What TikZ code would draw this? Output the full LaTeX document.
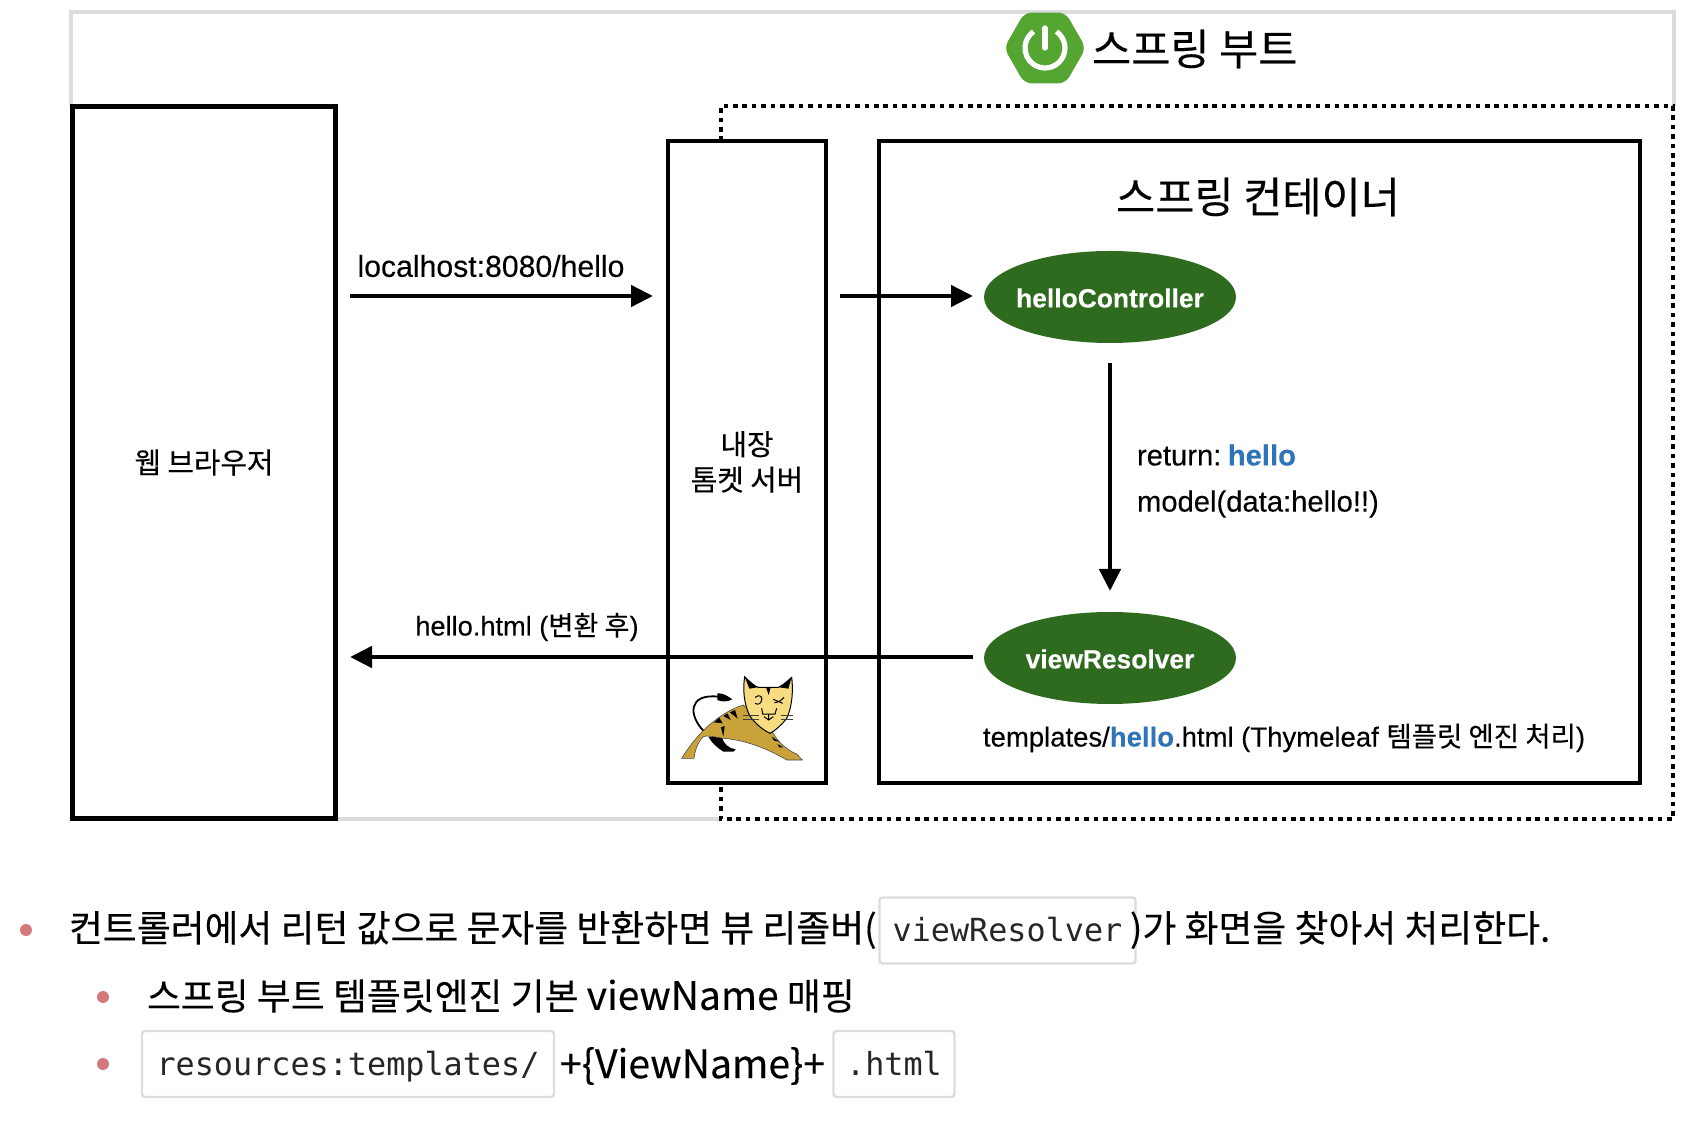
\documentclass[tikz,border=0pt]{standalone}
\usepackage{fontspec}
\setmainfont[FakeBold=0.25]{Liberation Sans}
\setmonofont{DejaVu Sans Mono}
\newfontfamily\krf[FakeBold=0.25]{Noto Sans CJK KR}
\usetikzlibrary{arrows.meta,shapes.geometric}
\definecolor{springgreen}{HTML}{55A532}
\definecolor{ovalgreen}{HTML}{2F6B1F}
\definecolor{linkblue}{HTML}{2F74B8}
\definecolor{framegray}{HTML}{DCDCDC}
\definecolor{bulletred}{HTML}{D4787C}
\definecolor{catbody}{HTML}{C9A23A}
\definecolor{cathead}{HTML}{F8DC82}
\newcommand{\sz}[1]{\fontsize{#1pt}{18pt}\selectfont}
\newcommand{\hl}{\textbf{\textcolor{linkblue}{hello}}}
\tikzset{
  bigbox/.style={draw=black,line width=2.3pt,inner sep=0pt,outer sep=0pt,align=center,font=\krf\sz{14.4}},
  oval/.style={ellipse,fill=ovalgreen,inner sep=0pt,outer sep=0pt,minimum width=126pt,minimum height=46pt},
  ovaltext/.style={inner sep=0pt,outer sep=0pt,text=white,font=\bfseries\sz{13.2}},
  flow/.style={line width=2.3pt,-{Triangle[length=11pt,width=10.5pt]}},
  lbl/.style={inner sep=0pt,outer sep=0pt,font=\sz{14.6}},
  title/.style={inner sep=0pt,outer sep=0pt,font=\krf\fontsize{21.3pt}{25pt}\selectfont},
  body/.style={inner sep=0pt,outer sep=0pt,anchor=west,font=\krf\fontsize{18.42pt}{22pt}\selectfont},
  code/.style={draw=framegray,line width=1.2pt,rounded corners=1.5pt,inner sep=0pt,outer sep=0pt,font=\ttfamily\fontsize{15.9pt}{19pt}\selectfont,text=black!85,text height=13.5pt,text depth=2pt},
  dot/.style={circle,fill=bulletred,inner sep=0pt,outer sep=0pt,minimum size=6pt}
}
\begin{document}
\begin{tikzpicture}[x=0.5pt,y=-0.5pt]
\useasboundingbox (0,0) rectangle (1688,1122);
% gray frame
\draw[framegray,line width=1.6pt] (71,106) -- (71,12) -- (1674,12) -- (1674,106);
\draw[framegray,line width=1.6pt] (336,819) -- (721,819);
% dotted spring boot boundary
\draw[line width=2.3pt,dash pattern=on 2.3pt off 2.4pt] (721,141) -- (721,106) -- (1673,106) -- (1673,819) -- (721,819) -- (721,783);
% boxes
\node[bigbox,minimum width=131.5pt,minimum height=356pt] (browser) at (204,462.5) {웹 브라우저};
\node[bigbox,minimum width=79pt,minimum height=321pt] (tomcat) at (747,462) {내장\\[-0.3pt]톰켓 서버};
\node[bigbox,minimum width=380.5pt,minimum height=321pt] (container) at (1259.5,462) {};
\node[title] (ctitle) at (1258,197) {스프링 컨테이너};
% ovals
\node[oval] (hc) at (1110,297) {};
\node[ovaltext] (hct) at (1110,298) {helloController};
\node[oval] (vr) at (1110,658) {};
\node[ovaltext] (vrt) at (1110,659) {viewResolver};
% connector ends
\coordinate (reqa) at (350,296);
\coordinate (reqb) at (653,296);
\coordinate (reqc) at (840,296);
\coordinate (reqd) at (973,296);
\coordinate (reta) at (973,657);
\coordinate (retb) at (350,657);
\draw[flow] (reqa) -- (reqb);
\draw[flow] (reqc) -- (reqd);
\draw[flow,shorten <=10pt,shorten >=10.5pt] (hc.south) -- (vr.north);
\draw[flow] (reta) -- (retb);
% labels
\node[lbl,font=\sz{15.1}] (l1) at (491,266) {localhost:8080/hello};
\node[lbl,font=\sz{13.6}] (l2) at (527,627) {hello.html ({\krf 변환 후})};
\node[lbl,anchor=west] (l3) at (1137,455) {return:\hspace{0.22em}\hl};
\node[lbl,anchor=west] (l4) at (1137,504) {model(data:hello!!)};
\node[lbl,anchor=west,font=\sz{13.75}] (l5) at (983,738) {templates/\hl.html (Thymeleaf {\krf 템플릿 엔진 처리})};
% spring logo
\node[regular polygon,regular polygon sides=6,fill=springgreen,draw=springgreen,line width=3pt,rounded corners=3pt,inner sep=0pt,minimum size=37.5pt] (logo) at (1045,48) {};
\draw[white,line width=2.6pt] (1045,48) ++(-55:20) arc[start angle=-55,end angle=235,radius=20] ;
\draw[white,line width=2.6pt,line cap=round] (1045,28) -- (1045,48);
\node[title,anchor=west] (stitle) at (1092,49) {스프링 부트};
% tomcat cat
\begin{scope}[shift={(640,640)},x=0.16667pt,y=-0.16667pt]
  \draw[black,line width=0.9pt] (190,272) .. controls (145,225) and (145,160) .. (235,170);
  \fill (232,160) .. controls (250,158) and (265,170) .. (277,178) .. controls (262,186) and (245,186) .. (232,180) -- cycle;
  \fill (205,290) -- (245,290) .. controls (250,310) and (265,325) .. (287,328) -- (280,335) -- (250,335) .. controls (235,325) and (215,310) .. (205,290) -- cycle;
  \filldraw[fill=catbody,draw=black!70,line width=0.3pt] (125,355) .. controls (150,315) and (175,285) .. (200,262)
     .. controls (235,230) and (275,205) .. (310,195) -- (400,280) .. controls (415,310) and (450,335) .. (470,342)
     -- (487,360) -- (440,360) .. controls (390,330) and (320,300) .. (250,295) .. controls (220,290) and (200,285) .. (190,290)
     .. controls (170,310) and (165,335) .. (162,355) -- cycle;
  \filldraw[fill=cathead,draw=black,line width=0.5pt] (314,110) .. controls (328,125) and (340,138) .. (355,142) -- (415,142)
     .. controls (430,135) and (445,122) .. (455,112) .. controls (462,170) and (450,215) .. (440,235)
     .. controls (425,255) and (405,272) .. (390,280) .. controls (365,268) and (340,245) .. (328,225) .. controls (312,190) and (308,150) .. (314,110) -- cycle;
  \fill (314,110) -- (352,142) -- (328,146) -- cycle;
  \fill (455,112) -- (418,142) -- (445,146) -- cycle;
  \fill (378,142) -- (392,142) -- (386,165) -- cycle;
  % back and flank stripes
  \fill (222,247) -- (238,233) -- (248,250) -- cycle;
  \fill (250,228) -- (262,220) -- (272,240) -- cycle;
  \fill (270,217) -- (285,210) -- (293,236) -- cycle;
  \fill (243,262) -- (254,258) -- (250,290) -- cycle;
  \fill (395,290) -- (418,305) -- (402,302) -- cycle;
  \fill (412,312) -- (430,322) -- (418,322) -- cycle;
  % face
  \draw[black,line width=0.5pt] (345,172) .. controls (360,160) and (372,172) .. (362,188) .. controls (355,195) and (348,192) .. (345,190);
  \draw[black,line width=0.5pt] (403,188) .. controls (415,188) and (425,180) .. (432,172) (400,178) -- (428,190);
  \draw[black,line width=0.5pt] (365,205) -- (368,222) -- (405,222) -- (410,205) (372,230) -- (386,240) -- (400,230) (386,222) -- (386,240);
  \draw[black!75,line width=0.4pt] (310,225) -- (358,225) (310,238) -- (358,238) (422,225) -- (460,225) (422,238) -- (460,238);
\end{scope}
% bottom text
\node[dot] (b1) at (26,930) {};
\node[body] (t1) at (69,930) {컨트롤러에서 리턴 값으로 문자를 반환하면 뷰 리졸버(};
\node[code,minimum width=128pt,minimum height=33pt] (c1) at (1007.5,930.5) {viewResolver};
\node[body] (t2) at (1130,930) {)가 화면을 찾아서 처리한다.};
\node[dot] (b2) at (103,997) {};
\node[body] (t3) at (147,996) {스프링 부트 템플릿엔진 기본 {\fontsize{19.5pt}{22pt}\selectfont viewName} 매핑};
\node[dot] (b3) at (103,1064) {};
\node[code,minimum width=206pt,minimum height=33pt] (c2) at (348,1064) {resources:templates/};
\node[body,font=\krf\fontsize{19.6pt}{22pt}\selectfont] (t4) at (560,1066) {+\{ViewName\}+};
\node[code,minimum width=60.5pt,minimum height=33pt] (c3) at (894,1064) {.html};
\end{tikzpicture}
\end{document}
